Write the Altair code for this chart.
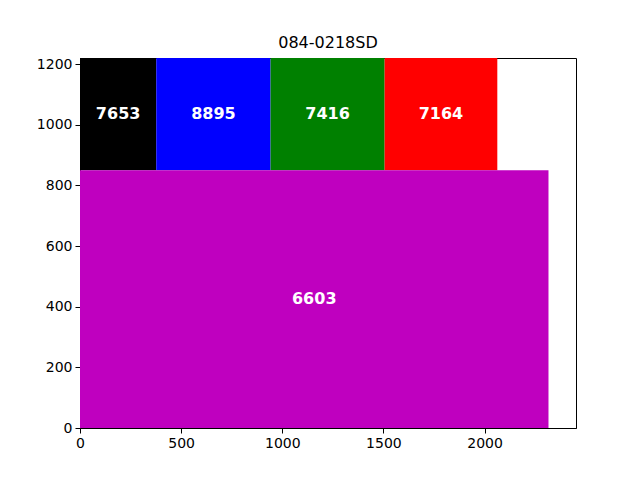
import altair as alt
import pandas as pd

labels = ["7653", "8895", "7416", "7164", "6603"]
x_start = [0, 377, 942, 1506, 0]
x_end = [377, 942, 1506, 2063, 2316]
y_start = [850, 850, 850, 850, 0]
y_end = [1220, 1220, 1220, 1220, 850]
colors = ["#000000", "#0000ff", "#008000", "#ff0000", "#bf00bf"]

df = pd.DataFrame({
    "label": labels,
    "x": x_start,
    "x2": x_end,
    "y": y_start,
    "y2": y_end,
    "color": colors,
})

FONT = "DejaVu Sans"
xscale = alt.Scale(domain=[0, 2452], nice=False, zero=False)
yscale = alt.Scale(domain=[0, 1220], nice=False, zero=False)

axis_common = dict(title=None, grid=False, format="d", labelFlush=False,
                   domainColor="black", tickColor="black", labelColor="black",
                   labelFont=FONT, labelFontSize=14, tickSize=5, labelPadding=3)

base = alt.Chart(df)

rects = base.mark_rect(stroke=None).encode(
    x=alt.X("x:Q", scale=xscale,
            axis=alt.Axis(values=[0, 500, 1000, 1500, 2000], **axis_common)),
    x2="x2:Q",
    y=alt.Y("y:Q", scale=yscale,
            axis=alt.Axis(values=[0, 200, 400, 600, 800, 1000, 1200], **axis_common)),
    y2="y2:Q",
    color=alt.Color("color:N", scale=None, legend=None),
)

texts = base.transform_calculate(
    xm="(datum.x + datum.x2) / 2",
    ym="(datum.y + datum.y2) / 2",
).mark_text(color="white", fontWeight="bold", fontSize=16, font=FONT,
            baseline="middle", align="center").encode(
    x=alt.X("xm:Q", scale=xscale),
    y=alt.Y("ym:Q", scale=yscale),
    text="label:N",
)

chart = (rects + texts).properties(
    width=496,
    height=370,
    title=alt.TitleParams("084-0218SD", font=FONT, fontSize=16, fontWeight="normal",
                          color="black", offset=6),
    autosize=alt.AutoSizeParams(type="none"),
    padding={"left": 80, "top": 58, "right": 64, "bottom": 52},
).configure_view(stroke="black", strokeWidth=1)

chart.save("out.html", embed_options={"renderer": "svg", "actions": False})
